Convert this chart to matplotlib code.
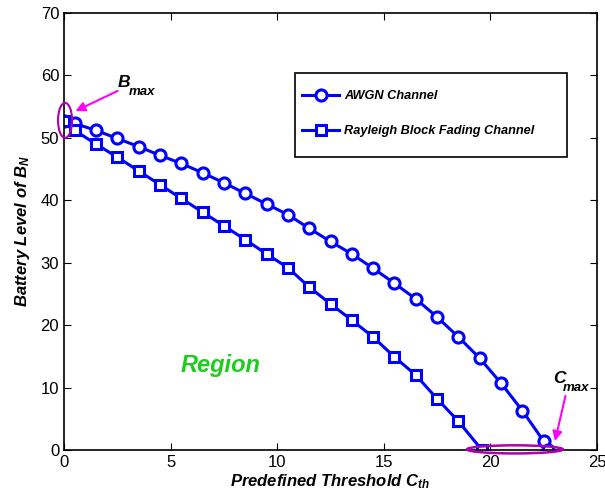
import matplotlib
matplotlib.use("Agg")
import matplotlib.pyplot as plt
from matplotlib.patches import Ellipse, Rectangle

plt.rcParams['font.family'] = ['Liberation Sans', 'DejaVu Sans']
plt.rcParams['mathtext.fontset'] = 'custom'
plt.rcParams['mathtext.it'] = 'Liberation Sans:italic:bold'
plt.rcParams['mathtext.rm'] = 'Liberation Sans:italic:bold'
plt.rcParams['mathtext.bf'] = 'Liberation Sans:italic:bold'

x_awgn = [0, 0.5, 1.5, 2.5, 3.5, 4.5, 5.5, 6.5, 7.5, 8.5, 9.5, 10.5, 11.5,
          12.5, 13.5, 14.5, 15.5, 16.5, 17.5, 18.5, 19.5, 20.5, 21.5, 22.5, 22.7]
y_awgn = [52.7, 52.3, 51.2, 49.9, 48.6, 47.2, 45.9, 44.4, 42.8, 41.1, 39.4, 37.7, 35.5,
          33.4, 31.4, 29.1, 26.7, 24.2, 21.3, 18.1, 14.7, 10.7, 6.3, 1.4, 0.0]

x_ray = [0, 0.5, 1.5, 2.5, 3.5, 4.5, 5.5, 6.5, 7.5, 8.5, 9.5, 10.5, 11.5,
         12.5, 13.5, 14.5, 15.5, 16.5, 17.5, 18.5, 19.6]
y_ray = [52.7, 51.2, 49.0, 46.9, 44.7, 42.5, 40.3, 38.1, 35.9, 33.7, 31.4, 29.2, 26.1,
         23.4, 20.8, 18.1, 14.9, 12.0, 8.2, 4.6, 0.0]

labels = ['AWGN Channel', 'Rayleigh Block Fading Channel']

fig = plt.figure(figsize=(6.05, 4.95), dpi=100)
ax = fig.add_axes([64/605, 1-450/495, (597-64)/605, (450-13)/495])

ax.plot(x_awgn, y_awgn, color='#0000ff', lw=2.2, marker='o', ms=8,
        mfc='white', mec='#0000ff', mew=2.2, label=labels[0])
ax.plot(x_ray, y_ray, color='#0000ff', lw=2.2, marker='s', ms=6.5,
        mfc='white', mec='#0000ff', mew=2.2, label=labels[1])

ax.set_xlim(0, 25)
ax.set_ylim(0, 70)
ax.set_xticks([0, 5, 10, 15, 20, 25])
ax.set_yticks([0, 10, 20, 30, 40, 50, 60, 70])
ax.tick_params(direction='in', labelsize=12, length=5, width=0.8,
               top=True, right=True)
for s in ax.spines.values():
    s.set_linewidth(1.2)

ax.set_xlabel(r'Predefined Threshold $C_{th}$',
              fontsize=12, fontweight='bold', style='italic', labelpad=2)
ax.set_ylabel(r'Battery Level of $B_{N}$',
              fontsize=12, fontweight='bold', style='italic', labelpad=6)

# legend (frame drawn separately to match the reference padding)
ax.add_patch(Rectangle((0.4334, 0.6705), 0.5103, 0.1922, transform=ax.transAxes,
                       fill=True, fc='white', ec='black', lw=1.2, zorder=4))
leg = ax.legend(loc='upper left', bbox_to_anchor=(0.4465, 0.8227),
                prop={'weight': 'bold', 'style': 'italic', 'size': 9.2},
                frameon=False, borderpad=0, labelspacing=1.8,
                handlelength=2.9, handletextpad=0.4, borderaxespad=0)
leg.set_zorder(5)

# annotations
ax.add_patch(Ellipse((0.05, 52.8), 0.66, 5.6, fill=False, ec='#b000b0', lw=1.5,
                     clip_on=False, zorder=5))
ax.add_patch(Ellipse((21.15, 0.1), 4.5, 1.3, fill=False, ec='#b000b0', lw=1.8,
                     clip_on=False, zorder=5))
ax.annotate('', xy=(0.42, 54.1), xytext=(2.63, 57.7),
            arrowprops=dict(arrowstyle='-|>', color='#ff00ff', lw=1.5,
                            mutation_scale=14))
ax.annotate('', xy=(23.0, 1.0), xytext=(23.55, 9.1),
            arrowprops=dict(arrowstyle='-|>', color='#ff00ff', lw=1.5,
                            mutation_scale=14))
ax.text(2.53, 58.1, 'B', fontsize=12.5, fontweight='bold', style='italic')
ax.text(3.05, 56.9, 'max', fontsize=9.5, fontweight='bold', style='italic')
ax.text(22.94, 10.7, 'C', fontsize=12.5, fontweight='bold', style='italic')
ax.text(23.4, 9.4, 'max', fontsize=9.5, fontweight='bold', style='italic')

ax.text(7.35, 13.6, 'Region', fontsize=17, fontweight='bold', style='italic',
        color='#1ecc1e', ha='center', va='center')

fig.savefig('out.png', dpi=100)
